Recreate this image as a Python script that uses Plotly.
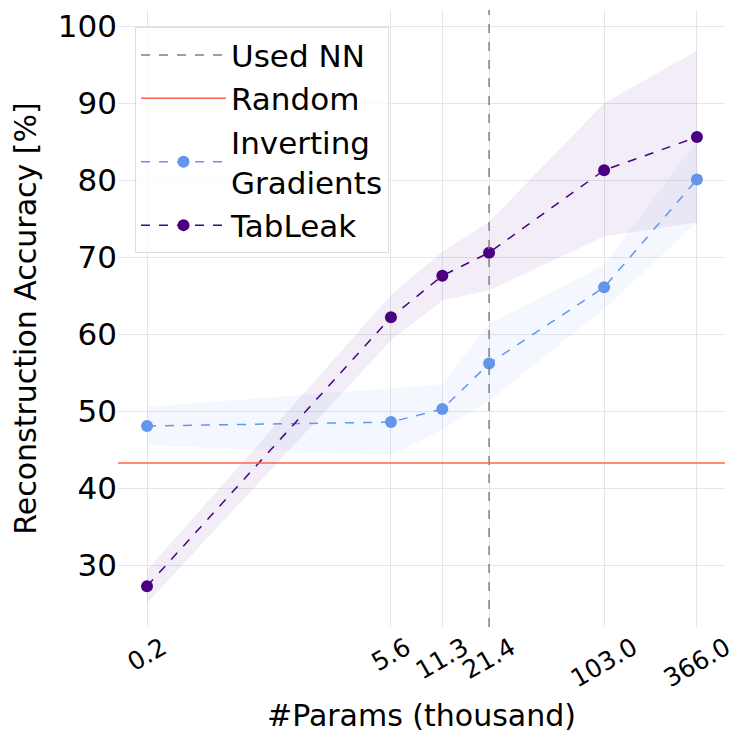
import math
import plotly.graph_objects as go

# model sizes (thousand params) and mean reconstruction accuracy
params_k = [0.2, 5.6, 11.3, 21.4, 103.0, 366.0]
tick_labels = ["0.2", "5.6", "11.3", "21.4", "103.0", "366.0"]

ig_mean = [48.1, 48.6, 50.3, 56.2, 66.1, 80.1]
ig_upper = [50.6, 53.0, 53.5, 61.4, 69.0, 85.2]
ig_lower = [45.6, 44.3, 47.6, 51.4, 63.3, 74.5]

tab_mean = [27.3, 62.2, 67.6, 70.6, 81.3, 85.6]
tab_upper = [29.4, 65.1, 70.7, 74.6, 90.0, 96.8]
tab_lower = [25.1, 59.2, 64.4, 65.7, 72.7, 74.5]

random_acc = 43.3
used_nn = 21.4

IG_COLOR = "#6495ED"
TAB_COLOR = "#4B0082"

fig = go.Figure()

# shaded bands
fig.add_trace(go.Scatter(x=params_k, y=tab_upper, mode="lines", line=dict(width=0),
                         showlegend=False, hoverinfo="skip"))
fig.add_trace(go.Scatter(x=params_k, y=tab_lower, mode="lines", line=dict(width=0),
                         fill="tonexty", fillcolor="rgba(75,0,130,0.07)",
                         showlegend=False, hoverinfo="skip"))
fig.add_trace(go.Scatter(x=params_k, y=ig_upper, mode="lines", line=dict(width=0),
                         showlegend=False, hoverinfo="skip"))
fig.add_trace(go.Scatter(x=params_k, y=ig_lower, mode="lines", line=dict(width=0),
                         fill="tonexty", fillcolor="rgba(100,149,237,0.07)",
                         showlegend=False, hoverinfo="skip"))

# reference lines
fig.add_vline(x=used_nn, line=dict(color="#808080", width=1.5, dash="dash"),
              showlegend=True, name="Used NN", legendrank=1, legendgroup="a")
fig.add_hline(y=random_acc, line=dict(color="#FF6347", width=1.5),
              showlegend=True, name="Random", legendrank=2, legendgroup="b")

fig.add_trace(go.Scatter(x=params_k, y=ig_mean, mode="lines+markers",
                         name="Inverting<br>Gradients", legendrank=3, legendgroup="c",
                         line=dict(color=IG_COLOR, width=1.5, dash="dash"),
                         marker=dict(size=12, color=IG_COLOR)))
fig.add_trace(go.Scatter(x=params_k, y=tab_mean, mode="lines+markers",
                         name="TabLeak", legendrank=4, legendgroup="d",
                         line=dict(color=TAB_COLOR, width=1.5, dash="dash"),
                         marker=dict(size=12, color=TAB_COLOR)))

# rotated tick labels centred under each tick (matplotlib style)
for v, lab in zip(params_k, tick_labels):
    fig.add_annotation(x=math.log10(v), xref="x", y=0, yref="paper", yshift=-2,
                       text=lab, showarrow=False, textangle=-30,
                       xanchor="center", yanchor="top", font=dict(size=25))

fig.update_layout(
    width=747, height=747,
    margin=dict(l=110, r=30, t=2, b=128),
    plot_bgcolor="white", paper_bgcolor="white",
    font=dict(family="DejaVu Sans", size=30, color="black"),
    legend=dict(x=0.028, y=0.972, xanchor="left", yanchor="top",
                bgcolor="rgba(255,255,255,0.8)", bordercolor="#dddddd", borderwidth=1,
                font=dict(size=31), traceorder="grouped", tracegroupgap=0,
                itemwidth=85),
)
fig.update_xaxes(type="log", range=[-0.871, 2.73], automargin=False,
                 tickvals=params_k, showticklabels=False,
                 title=dict(text="#Params (thousand)", font=dict(size=30), standoff=77),
                 showgrid=True, gridcolor="#e6e6e6", zeroline=False, showline=False)
fig.update_yaxes(range=[22, 102.1], tickvals=[30, 40, 50, 60, 70, 80, 90, 100],
                 automargin=False, tickfont=dict(size=31),
                 title=dict(text="Reconstruction Accuracy [%]", font=dict(size=30), standoff=24),
                 showgrid=True, gridcolor="#e6e6e6", zeroline=False, showline=False)

fig.write_html("out.html")
